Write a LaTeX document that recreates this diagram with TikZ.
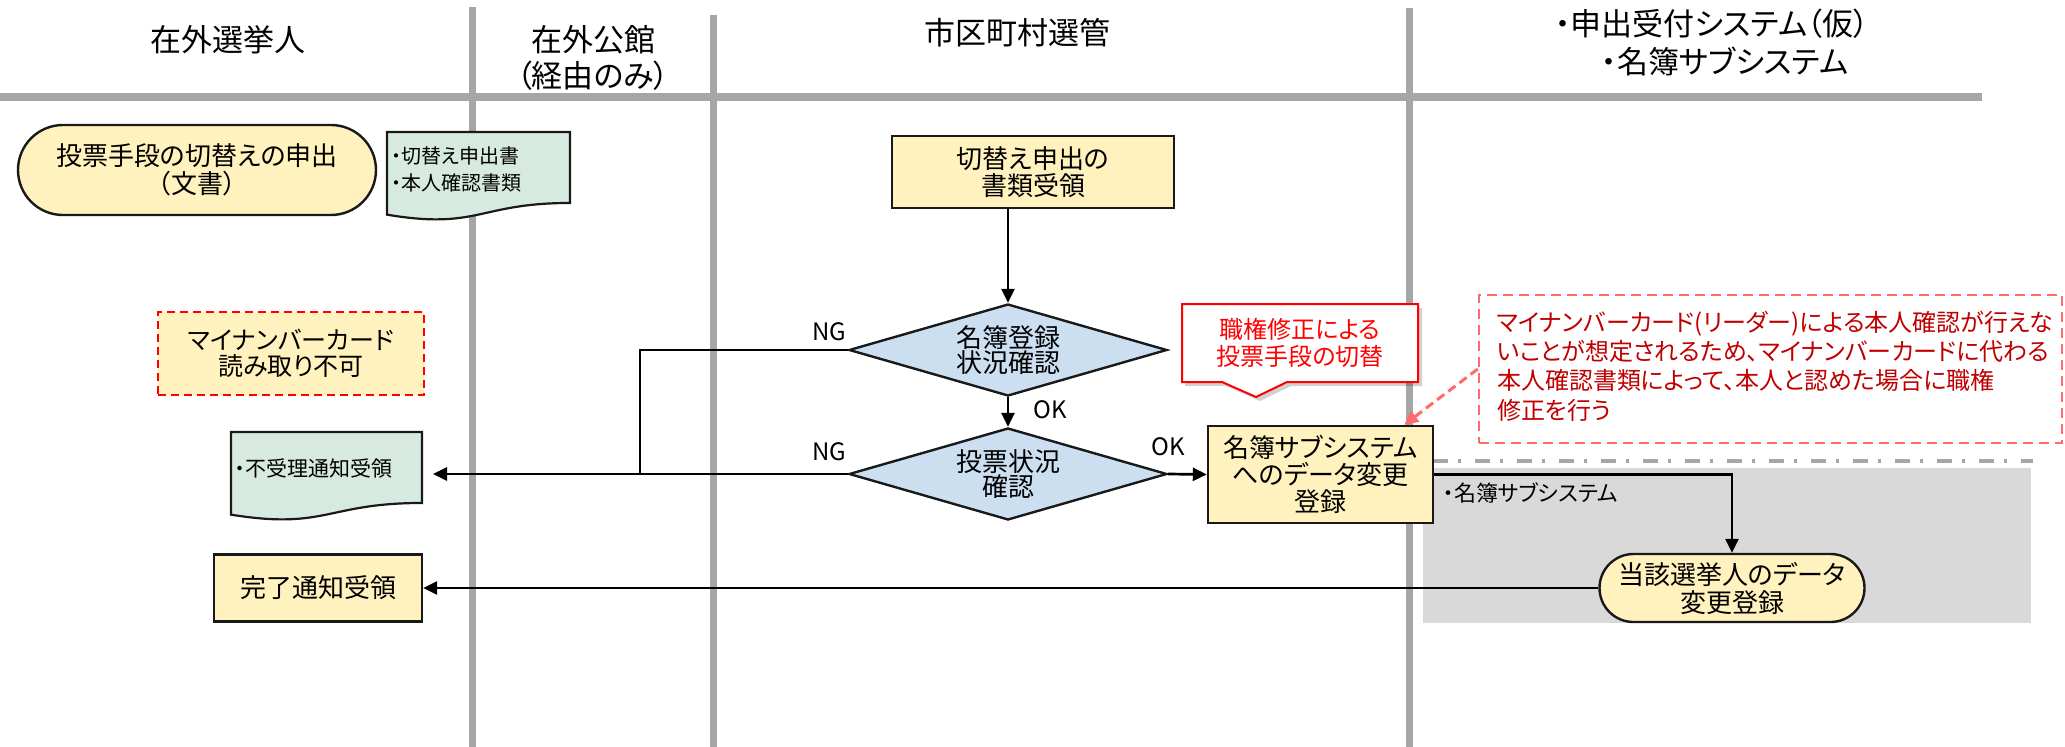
\documentclass[tikz,border=0pt]{standalone}
\usepackage{fontspec}
\setmainfont{Noto Sans CJK JP}[RawFeature={+palt}]
\usetikzlibrary{shapes.geometric,shapes.misc,arrows.meta}
\definecolor{lanegray}{HTML}{A6A6A6}
\definecolor{areagray}{HTML}{D9D9D9}
\definecolor{yfill}{HTML}{FFF2BE}
\definecolor{gfill}{HTML}{D6EADF}
\definecolor{bfill}{HTML}{CCDFF1}
\definecolor{notered}{HTML}{C00000}
\definecolor{notedash}{HTML}{FF6B6B}
\newcommand{\setfs}[2]{\fontsize{#1pt}{#2pt}\selectfont}
\newcommand{\docpath}[4]{%
  \draw[docsty] (#1,#2) -- ({#1+#3},#2) -- ({#1+#3},{#2+0.802*#4})
    .. controls ({#1+0.5*#3},{#2+0.802*#4}) and ({#1+0.5*#3},{#2+1.1075*#4}) .. (#1,{#2+0.934*#4}) -- cycle;}
\tikzset{
  lane/.style={draw=lanegray, line width=7pt},
  hdr/.style={inner sep=0pt, font=\setfs{31}{36}},
  proc/.style={draw=black!90, line width=2.4pt, fill=yfill, inner sep=0pt, align=center, font=\setfs{26}{27}},
  term/.style={rounded rectangle, draw=black!90, line width=2.4pt, fill=yfill, inner sep=0pt, align=center, font=\setfs{26}{28}},
  dia/.style={diamond, aspect=3.4, draw=black!90, line width=2.4pt, fill=bfill, inner sep=0pt, align=center, minimum width=318pt, minimum height=92pt, font=\setfs{26}{25}},
  docsty/.style={draw=black!90, line width=2.2pt, fill=gfill},
  doctext/.style={inner sep=0pt, align=left, font=\setfs{20}{27}},
  ln/.style={draw=black, line width=2.7pt},
  arr/.style={ln, -{Triangle[length=14pt,width=13pt]}},
  lbl/.style={inner sep=0pt, font=\setfs{24}{24}},
  notearr/.style={draw=notedash, line width=3pt, dash pattern=on 9pt off 5pt, -{Triangle[length=14pt,width=13pt]}},
}
\begin{document}
\begin{tikzpicture}[x=1pt,y=-1pt]
\useasboundingbox (0,0) rectangle (2065,747);
\fill[white] (0,0) rectangle (2065,747);
% lanes
\draw[lane, line width=8pt] (0,97) -- (1982,97);
\draw[lane] (472,7) -- (472,747);
\draw[lane] (713,15) -- (713,747);
\draw[lane] (1409,8) -- (1409,747);
% headers
\node[hdr] (h1) at (228,40) {在外選挙人};
\node[hdr] (h2a) at (593,40) {在外公館};
\node[hdr] (h2b) at (593,76) {（経由のみ）};
\node[hdr] (h3) at (1017,33) {市区町村選管};
\node[hdr] (h4a) at (1712,24) {・申出受付システム（仮）};
\node[hdr] (h4b) at (1725,61) {・名簿サブシステム};
% gray area and separator
\fill[areagray] (1423,468) rectangle (2031,623);
\draw[draw=lanegray, line width=4pt, dash pattern=on 15pt off 10pt on 3pt off 14pt] (1433,461) -- (2033,461);
\node[anchor=west, inner sep=0pt, font=\setfs{22}{22}] (subsys) at (1443,493) {・名簿サブシステム};
% left lane
\node[term, minimum width=358pt, minimum height=90pt] (t1) at (197,170) {投票手段の切替えの申出\\（文書）};
\docpath{387}{132}{183}{88.5}
\node[doctext, anchor=west] (doc1) at (391,169) {・切替え申出書\\・本人確認書類};
\node[draw=red, line width=2pt, dash pattern=on 8pt off 5pt, fill=yfill, inner sep=0pt, align=center,
      minimum width=266pt, minimum height=83pt, font=\setfs{25}{26}] (mnc) at (291,353.5) {マイナンバーカード\\読み取り不可};
\docpath{231}{432}{191}{88.5}
\node[doctext, anchor=west, font=\setfs{21}{27}] (doc2) at (235,469) {・不受理通知受領};
\node[proc, minimum width=208pt, minimum height=67pt] (done) at (318,588) {完了通知受領};
% municipal lane
\node[proc, minimum width=282pt, minimum height=72pt] (b3) at (1033,172) {切替え申出の\\書類受領};
\node[dia] (d1) at (1008,350) {名簿登録\\状況確認};
\node[dia] (d2) at (1008,474) {投票状況\\確認};
\node[proc, minimum width=225pt, minimum height=97pt] (b4) at (1320.5,474.5) {名簿サブシステム\\へのデータ変更\\登録};
% callout
\fill[black, opacity=0.18] (1185,308) -- (1422,308) -- (1422,386) -- (1291,386) -- (1260,401) -- (1226,386) -- (1185,386) -- cycle;
\draw[draw=red, line width=2pt, fill=white] (1182,304) -- (1418,304) -- (1418,382) -- (1287,382) -- (1256,397) -- (1222,382) -- (1182,382) -- cycle;
\node[inner sep=0pt, align=center, text=red, font=\setfs{24}{27}] (co) at (1300,343) {職権修正による\\投票手段の切替};
% note
\node[draw=notedash, line width=2.5pt, dash pattern=on 10pt off 6pt, minimum width=583pt, minimum height=148pt, inner sep=0pt] (note) at (1770.5,369) {};
\node[anchor=west, inner sep=0pt, align=left, text=notered, font=\setfs{24}{29.3}] (notet) at (1497,366)
  {マイナンバーカード(リーダー)による本人確認が行えな\\いことが想定されるため、マイナンバーカードに代わる\\本人確認書類によって、本人と認めた場合に職権\\修正を行う};
% terminal in system lane
\node[term, minimum width=265pt, minimum height=68pt] (t2) at (1732,588) {当該選挙人のデータ\\変更登録};
% connectors
\coordinate (jn) at (640,474);
\coordinate (ngend) at (433,474);
\draw[arr] (b3.south -| d1.north) -- (d1.north);
\draw[arr] (d1.south) -- (d2.north);
\draw[arr] (d2.east) -- (b4.west);
\draw[ln] (d1.west) -| (jn);
\draw[arr] (d2.west) -- (ngend);
\draw[arr] (b4.east) -| (t2.north);
\draw[arr] (t2.west) -- (done.east);
\draw[notearr] (note.west) -- ([xshift=-30pt]b4.north east);
% labels
\node[lbl] (ng1) at (829,332) {NG};
\node[lbl] (ng2) at (829,452) {NG};
\node[lbl] (ok1) at (1050,410) {OK};
\node[lbl] (ok2) at (1168,447) {OK};
\end{tikzpicture}
\end{document}
